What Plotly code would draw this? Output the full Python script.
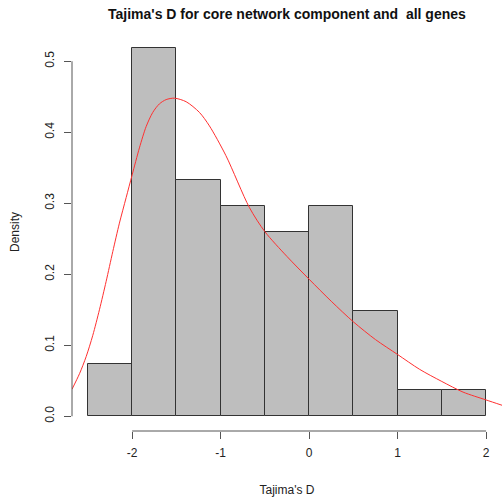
import plotly.graph_objects as go

# Histogram bins (left edges, width 0.5) and density heights
bin_left = [-2.5, -2.0, -1.5, -1.0, -0.5, 0.0, 0.5, 1.0, 1.5]
bin_width = 0.5
density = [0.074, 0.519, 0.333, 0.296, 0.259, 0.296, 0.148, 0.037, 0.037]

# Red density curve
curve_x = [-2.68, -2.595, -2.52, -2.445, -2.37, -2.294, -2.219, -2.144, -2.068,
           -2.0, -1.918, -1.842, -1.767, -1.692, -1.616, -1.522, -1.39, -1.24,
           -1.127, -0.94, -0.675, -0.5, -0.25, 0.0, 0.25, 0.5, 0.75, 1.0, 1.25,
           1.5, 1.74, 2.0, 2.18]
curve_y = [0.038, 0.060, 0.084, 0.114, 0.150, 0.190, 0.232, 0.272, 0.308,
           0.340, 0.378, 0.408, 0.428, 0.440, 0.446, 0.448, 0.443, 0.428,
           0.409, 0.367, 0.294, 0.260, 0.225, 0.193, 0.162, 0.133, 0.108,
           0.087, 0.066, 0.049, 0.034, 0.023, 0.0155]

x_ticks = [-2, -1, 0, 1, 2]
y_ticks = [0.0, 0.1, 0.2, 0.3, 0.4, 0.5]

title = "Tajima's D for core network component and  all genes"
xlab = "Tajima's D"
ylab = "Density"

centers = [l + bin_width / 2 for l in bin_left]

fig = go.Figure()
fig.add_trace(go.Bar(
    x=centers, y=density, width=[bin_width] * len(centers),
    marker=dict(color="#BEBEBE", line=dict(color="#333333", width=1)),
    hoverinfo="skip",
))
fig.add_trace(go.Scatter(
    x=curve_x, y=curve_y, mode="lines",
    line=dict(color="#FF3030", width=1, shape="spline", smoothing=0.8),
    hoverinfo="skip",
))

axis_col = "#555555"
font_family = "Liberation Sans, Arial, sans-serif"

fig.update_layout(
    width=502, height=500,
    margin=dict(l=72, r=0, t=33, b=69),
    paper_bgcolor="white", plot_bgcolor="white",
    showlegend=False,
    bargap=0,
    font=dict(family=font_family, size=12, color="#222222"),
    title=dict(text="<b>" + title + "</b>", x=0.5716, xanchor="center",
               y=1 - 14 / 500, yanchor="middle",
               font=dict(size=14, color="#111111", family=font_family)),
)
fig.update_xaxes(
    range=[-2.68, 2.18], showgrid=False, zeroline=False, showline=False,
    tickmode="array", tickvals=x_ticks, ticktext=[str(v) for v in x_ticks],
    ticks="outside", ticklen=7, tickwidth=1, tickcolor=axis_col,
    ticklabelstandoff=4,
    title=dict(text=xlab, standoff=26, font=dict(size=12)),
)
fig.update_yaxes(
    range=[-0.02076, 0.5398], showgrid=False, zeroline=False, showline=False,
    tickmode="array", tickvals=y_ticks, ticktext=["%.1f" % v for v in y_ticks],
    ticks="outside", ticklen=7, tickwidth=1, tickcolor=axis_col,
    tickangle=-90, ticklabelstandoff=5,
    title=dict(text=ylab, standoff=21, font=dict(size=12)),
)
# R-style axis lines spanning only the tick range
fig.add_shape(type="line", xref="x", yref="paper", x0=x_ticks[0], x1=x_ticks[-1],
              y0=0, y1=0, line=dict(color=axis_col, width=1))
fig.add_shape(type="line", xref="paper", yref="y", x0=0, x1=0,
              y0=y_ticks[0], y1=y_ticks[-1], line=dict(color=axis_col, width=1))

fig.write_html("out.html")
